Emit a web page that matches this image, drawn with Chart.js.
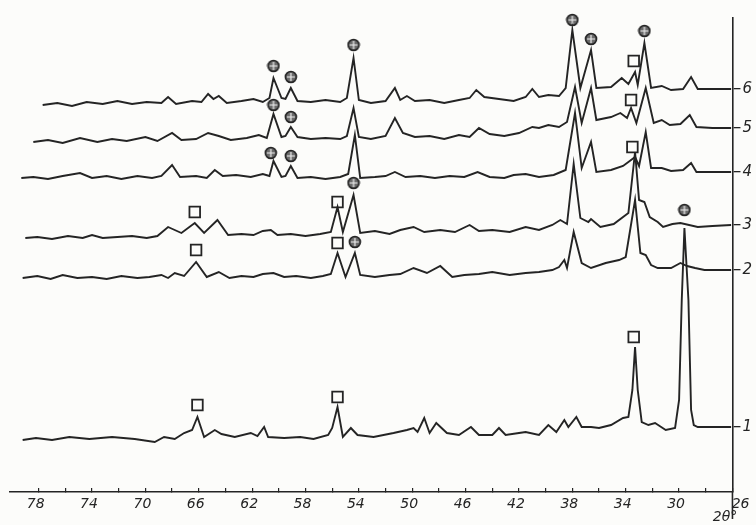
<!DOCTYPE html>
<html>
<head>
<meta charset="utf-8">
<script src="https://cdn.jsdelivr.net/npm/chart.js@4"></script>
<style>
html, body { margin: 0; padding: 0; background: #fcfcfa; }
canvas { display: block; }
</style>
</head>
<body>
<canvas id="xrd" width="756" height="525"></canvas>
<script>
// 2theta (deg) / intensity (arb. units, stacked)
const trace1 = [[79.2,50],[78.2,52],[77.0,50],[75.7,53],[74.2,51],[72.5,53],[70.8,51],[69.3,48],[68.6,53],[67.8,51],[67.1,57],[66.5,60],[66.1,73],[65.6,53],[64.8,60],[64.3,56],[63.3,53],[62.1,57],[61.6,54],[61.1,63],[60.8,53],[59.6,52],[58.4,53],[57.4,51],[56.3,55],[56.0,62],[55.6,83],[55.2,53],[54.6,62],[54.1,55],[52.9,53],[51.4,57],[50.4,60],[49.9,62],[49.6,58],[49.1,72],[48.7,57],[48.2,67],[47.4,57],[46.5,55],[45.6,63],[45.0,55],[44.0,55],[43.5,62],[43.0,55],[42.0,57],[41.5,58],[40.5,55],[39.8,65],[39.2,58],[38.6,70],[38.3,63],[37.7,73],[37.3,63],[36.6,63],[36.0,62],[35.1,65],[34.2,72],[33.8,73],[33.5,100],[33.3,143],[33.1,100],[32.8,68],[32.3,65],[31.8,67],[31.0,60],[30.3,62],[30.0,90],[29.8,190],[29.6,262],[29.3,190],[29.1,80],[28.9,65],[28.6,63],[27.3,63],[26.1,63]];
const trace2 = [[79.2,212],[78.1,214],[77.1,211],[76.2,215],[75.1,212],[74.0,213],[72.9,211],[71.8,214],[70.6,212],[69.7,213],[68.8,215],[68.3,212],[67.8,217],[67.1,214],[66.2,228],[65.4,213],[64.5,218],[63.7,212],[62.8,214],[61.9,213],[61.2,216],[60.4,217],[59.6,213],[58.7,214],[57.6,212],[56.7,214],[56.1,216],[55.6,237],[55.0,213],[54.3,237],[53.9,215],[52.8,213],[51.7,215],[50.9,216],[49.9,222],[48.9,217],[47.9,224],[47.0,213],[46.1,215],[45.0,216],[44.0,218],[42.7,215],[41.5,217],[40.5,218],[39.5,220],[39.0,223],[38.6,230],[38.4,222],[37.9,258],[37.3,227],[36.6,222],[35.5,227],[34.5,230],[34.0,233],[33.3,290],[32.9,237],[32.5,235],[32.1,225],[31.6,222],[30.6,222],[29.9,227],[29.4,224],[28.8,222],[28.1,220],[26.1,220]];
const trace3 = [[79.0,252],[78.1,253],[77.0,251],[75.8,254],[74.7,252],[74.0,255],[73.2,252],[72.1,253],[71.0,254],[69.9,252],[69.1,254],[68.3,263],[67.3,257],[66.3,267],[65.6,257],[64.6,270],[63.8,255],[62.8,256],[61.9,255],[61.2,259],[60.6,260],[60.1,255],[59.1,256],[58.0,254],[56.9,256],[56.1,258],[55.6,283],[55.2,258],[54.4,295],[53.9,257],[52.8,259],[51.7,256],[50.9,260],[49.9,263],[49.1,258],[47.9,260],[46.8,258],[45.7,265],[45.0,259],[44.0,260],[42.7,258],[41.5,263],[40.5,260],[39.5,265],[38.9,270],[38.4,266],[37.9,326],[37.4,272],[36.8,268],[36.6,271],[35.9,263],[34.9,266],[33.8,277],[33.3,338],[33.0,290],[32.6,288],[32.2,273],[31.6,268],[31.2,263],[30.5,266],[29.9,267],[28.6,263],[27.5,264],[26.1,265]];
const trace4 = [[79.3,312],[78.4,313],[77.3,311],[76.2,314],[74.9,317],[74.0,312],[72.9,314],[71.8,311],[70.6,314],[69.5,312],[68.8,314],[68.0,325],[67.4,313],[66.2,314],[65.4,312],[64.8,320],[64.2,314],[63.2,315],[62.1,313],[61.2,316],[60.7,314],[60.4,329],[59.8,313],[59.5,314],[59.1,324],[58.6,312],[57.6,313],[56.5,311],[55.4,313],[54.8,316],[54.3,355],[53.9,312],[52.8,313],[52.0,314],[51.3,318],[50.5,313],[49.4,314],[48.3,312],[47.2,314],[46.1,313],[45.1,318],[44.2,313],[43.1,312],[42.4,315],[41.5,316],[40.5,313],[39.4,315],[38.5,320],[37.8,377],[37.3,322],[36.6,348],[36.2,318],[35.1,320],[34.2,324],[33.8,328],[33.3,333],[33.0,324],[32.5,358],[32.1,322],[31.3,322],[30.6,319],[29.7,320],[29.1,327],[28.7,318],[27.5,318],[26.1,318]];
const trace5 = [[78.4,348],[77.3,350],[76.2,347],[74.9,352],[73.6,348],[72.5,351],[71.4,349],[70.0,353],[69.1,349],[68.0,357],[67.3,350],[66.2,351],[65.3,357],[64.5,354],[63.6,350],[62.4,352],[61.5,355],[60.9,352],[60.4,376],[59.8,353],[59.5,354],[59.1,363],[58.6,353],[57.6,351],[56.5,352],[55.4,351],[54.9,354],[54.4,382],[54.0,353],[53.1,351],[52.0,354],[51.3,372],[50.7,357],[49.8,353],[48.7,354],[47.6,351],[46.5,355],[45.7,353],[45.0,362],[44.2,356],[43.1,354],[42.0,357],[41.0,363],[40.5,362],[39.8,365],[39.0,363],[38.4,368],[37.8,403],[37.3,367],[36.6,402],[36.2,370],[35.1,373],[34.4,377],[33.9,372],[33.6,382],[33.2,367],[32.5,402],[31.9,367],[31.3,370],[30.7,365],[29.9,366],[29.2,375],[28.7,363],[27.5,362],[26.1,362]];
const trace6 = [[77.7,385],[76.6,387],[75.5,384],[74.4,388],[73.2,386],[72.1,389],[71.0,386],[69.9,388],[68.8,387],[68.3,393],[67.7,386],[66.5,389],[65.8,388],[65.3,396],[64.9,391],[64.5,394],[63.9,387],[62.8,389],[61.9,391],[61.2,388],[60.7,392],[60.4,412],[59.8,392],[59.5,391],[59.1,402],[58.6,389],[57.6,388],[56.5,390],[55.4,388],[54.9,392],[54.4,432],[54.0,390],[53.1,387],[52.0,389],[51.3,402],[50.9,390],[50.4,394],[49.8,389],[48.7,390],[47.6,387],[46.5,390],[45.7,392],[45.2,400],[44.6,393],[43.5,391],[42.4,389],[41.5,393],[41.0,401],[40.5,393],[39.8,395],[39.0,394],[38.5,402],[38.0,460],[37.4,402],[36.6,440],[36.2,402],[35.1,403],[34.3,412],[33.8,406],[33.3,418],[33.1,405],[32.6,447],[32.1,402],[31.3,404],[30.6,400],[29.7,401],[29.1,413],[28.6,401],[27.5,401],[26.1,401]];

// peak markers: open squares and circled crosses
const squarePeaks = [[66.1,85],[55.6,93],[33.4,153],[66.2,240],[55.6,247],[66.3,278],[55.6,288],[33.5,343],[33.6,390],[33.4,429]];
const crossPeaks = [[29.6,280],[54.3,248],[54.4,307],[60.6,337],[59.1,334],[60.4,385],[59.1,373],[60.4,424],[59.1,413],[54.4,445],[38.0,470],[36.6,451],[32.6,459]];

const traceNames = ["1", "2", "3", "4", "5", "6"];
const traceLevels = [63, 220, 265, 318, 362, 401];
const xTickValues = [78,76,74,72,70,68,66,64,62,60,58,56,54,52,50,48,46,44,42,40,38,36,34,32,30,28,26];
const xTickLabels = [78,74,70,66,62,58,54,50,46,42,38,34,30,26];
const xAxisName = "2θ°";

const ink = "#242424";
const handFont = { family: "DejaVu Sans", style: "italic", size: 14, lineHeight: 0.9 };

function crossMark() {
    const c = document.createElement("canvas");
    c.width = 14; c.height = 14;
    const g = c.getContext("2d");
    g.beginPath();
    g.arc(7, 7, 5.5, 0, 2 * Math.PI);
    g.fillStyle = "#6b6b6b";
    g.fill();
    g.lineWidth = 1.6;
    g.strokeStyle = ink;
    g.stroke();
    g.beginPath();
    g.moveTo(7, 3); g.lineTo(7, 11);
    g.moveTo(3, 7); g.lineTo(11, 7);
    g.lineWidth = 1.2;
    g.strokeStyle = "#eeeeee";
    g.stroke();
    return c;
}

const toXY = arr => arr.map(p => ({ x: p[0], y: p[1] }));

// the right border runs a little below the 2theta axis
const axisTail = {
    id: "axisTail",
    afterDraw(chart) {
        const { ctx, chartArea, scales } = chart;
        ctx.save();
        ctx.strokeStyle = ink;
        ctx.lineWidth = 1.6;
        ctx.beginPath();
        ctx.moveTo(scales.y.left, chartArea.bottom);
        ctx.lineTo(scales.y.left, chartArea.bottom + 27);
        ctx.stroke();
        ctx.restore();
    }
};

const traces = [trace1, trace2, trace3, trace4, trace5, trace6];
const datasets = traces.map((t, i) => ({
    type: "line",
    label: traceNames[i],
    data: toXY(t),
    borderColor: ink,
    borderWidth: 1.9,
    pointRadius: 0,
    tension: 0,
    clip: false
}));

datasets.push({
    type: "scatter",
    label: "square",
    data: toXY(squarePeaks),
    pointStyle: "rect",
    pointRadius: 7.5,
    backgroundColor: "#fcfcfa",
    borderColor: ink,
    borderWidth: 1.8,
    clip: false
});
datasets.push({
    type: "scatter",
    label: "cross",
    data: toXY(crossPeaks),
    pointStyle: crossMark(),
    clip: false
});

new Chart(document.getElementById("xrd"), {
    data: { datasets },
    plugins: [axisTail],
    options: {
        responsive: false,
        animation: false,
        layout: { padding: { left: 7, right: 2, top: 18, bottom: 0 } },
        plugins: { legend: { display: false }, tooltip: { enabled: false } },
        scales: {
            x: {
                type: "linear",
                reverse: true,
                min: 26,
                max: 80.2,
                afterBuildTicks: s => { s.ticks = xTickValues.map(v => ({ value: v })); },
                afterFit: s => { s.paddingLeft = 0; s.paddingRight = 0; s.height = 33; },
                border: { display: true, color: ink, width: 1.5 },
                grid: { drawOnChartArea: false, drawTicks: true, tickLength: -4, color: ink, lineWidth: 1.2 },
                ticks: {
                    padding: 10,
                    labelOffset: -3,
                    maxRotation: 0,
                    autoSkip: false,
                    color: ink,
                    font: handFont,
                    callback: v => {
                        if (!xTickLabels.includes(v)) return "";
                        // last label sits right of the border, axis name under it
                        return v === 26 ? ["     26", xAxisName + "  "] : String(v);
                    }
                }
            },
            y: {
                position: "right",
                min: -2,
                max: 472,
                afterBuildTicks: s => { s.ticks = traceLevels.map(v => ({ value: v })); },
                border: { display: true, color: ink, width: 1.6 },
                grid: { drawOnChartArea: false, tickLength: 8, color: ink, lineWidth: 1.3 },
                ticks: {
                    padding: 2,
                    color: ink,
                    font: { family: "DejaVu Sans", style: "italic", size: 15 },
                    callback: v => traceNames[traceLevels.indexOf(v)]
                }
            }
        }
    }
});
</script>
</body>
</html>
